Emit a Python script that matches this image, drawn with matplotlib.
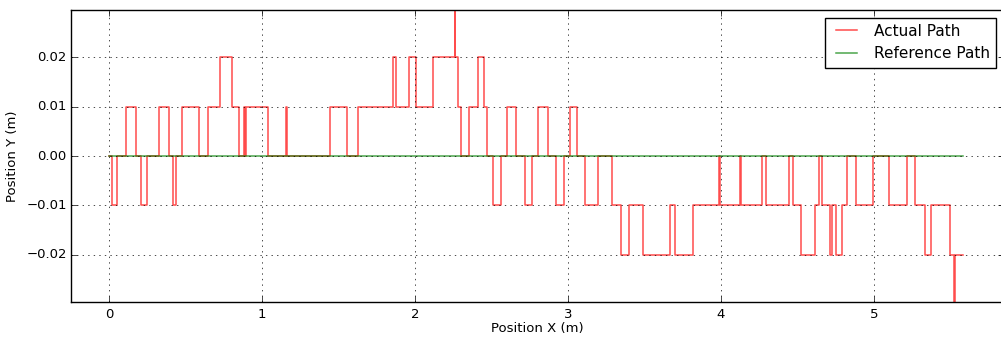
import matplotlib
matplotlib.use("Agg")
import matplotlib.pyplot as plt

# breakpoints along X (m) where the measured Y level changes
actual_x = [0.000, 0.015, 0.048, 0.109, 0.178, 0.207, 0.248, 0.327, 0.388, 0.414,
            0.436, 0.477, 0.586, 0.643, 0.725, 0.804, 0.848, 0.884, 0.888, 0.892,
            1.037, 1.155, 1.160, 1.442, 1.553, 1.625, 1.852, 1.874, 1.961, 2.008,
            2.120, 2.258, 2.262, 2.281, 2.303, 2.351, 2.412, 2.451, 2.473, 2.510,
            2.560, 2.599, 2.660, 2.717, 2.767, 2.806, 2.871, 2.919, 2.976, 3.015,
            3.061, 3.109, 3.198, 3.285, 3.349, 3.396, 3.488, 3.669, 3.697, 3.815,
            3.986, 3.990, 4.127, 4.131, 4.265, 4.296, 4.444, 4.473, 4.525, 4.614,
            4.641, 4.662, 4.710, 4.723, 4.754, 4.793, 4.826, 4.882, 4.995, 5.100,
            5.218, 5.270, 5.336, 5.375, 5.497, 5.523, 5.527, 5.582]
# Y level (m) held from each breakpoint to the next
actual_y = [0.00, -0.01, 0.00, 0.01, 0.00, -0.01, 0.00, 0.01, 0.00, -0.01,
            0.00, 0.01, 0.00, 0.01, 0.02, 0.01, 0.00, 0.01, 0.00, 0.01,
            0.00, 0.01, 0.00, 0.01, 0.00, 0.01, 0.02, 0.01, 0.02, 0.01,
            0.02, 0.04, 0.02, 0.01, 0.00, 0.01, 0.02, 0.01, 0.00, -0.01,
            0.00, 0.01, 0.00, -0.01, 0.00, 0.01, 0.00, -0.01, 0.00, 0.01,
            0.00, -0.01, 0.00, -0.01, -0.02, -0.01, -0.02, -0.01, -0.02, -0.01,
            0.00, -0.01, 0.00, -0.01, 0.00, -0.01, 0.00, -0.01, -0.02, -0.01,
            0.00, -0.01, -0.02, -0.01, -0.02, -0.01, 0.00, -0.01, 0.00, -0.01,
            0.00, -0.01, -0.02, -0.01, -0.02, -0.04, -0.02, -0.02]

ref_x = [0.0, 5.582]
ref_y = [0.0, 0.0]

plt.style.use('classic')
plt.rcParams['font.size'] = 10
plt.rcParams['xtick.labelsize'] = 9.5
plt.rcParams['ytick.labelsize'] = 9.5
plt.rcParams['xtick.major.pad'] = 4
plt.rcParams['ytick.major.pad'] = 3

fig = plt.figure(figsize=(10.01, 3.38), dpi=100)
ax = fig.add_axes([71 / 1001, 36 / 338, 933 / 1001, 292 / 338])

ax.step(actual_x, actual_y, where='post', color='r', alpha=0.7, lw=1.1, label='Actual Path')
ax.plot(ref_x, ref_y, color='g', alpha=0.7, lw=1.1, label='Reference Path')

ax.set_xlim(-0.25, 5.85)
ax.set_ylim(-0.0295, 0.0295)
ax.set_yticks([-0.02, -0.01, 0.0, 0.01, 0.02])
ax.set_xticks([0, 1, 2, 3, 4, 5])
ax.grid(True)
ax.set_xlabel('Position X (m)', fontsize=9.5, labelpad=1)
ax.set_ylabel('Position Y (m)', fontsize=9.5, labelpad=5)
ax.legend(loc='upper right', fontsize=11)

fig.savefig('out.png', dpi=100)
